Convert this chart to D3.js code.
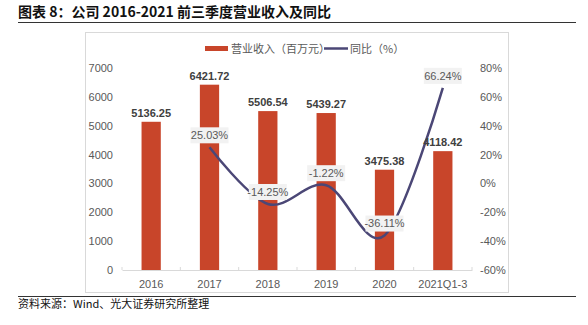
<!DOCTYPE html>
<html>
<head>
<meta charset="utf-8">
<script src="https://cdn.jsdelivr.net/npm/d3@7"></script>
<style>
  body { margin: 0; background: #fff; }
  svg text { font-family: "Liberation Sans", Arial, "Noto Sans CJK SC", sans-serif; }
  .cjk { font-family: "Noto Sans CJK SC", sans-serif; }
</style>
</head>
<body>
<svg id="chart" width="588" height="325"></svg>
<script>
// data
var categories = ["2016", "2017", "2018", "2019", "2020", "2021Q1-3"];
var revenue = [5136.25, 6421.72, 5506.54, 5439.27, 3475.38, 4118.42];
var yoy = [null, 25.03, -14.25, -1.22, -36.11, 66.24];
var leftTicks = [0, 1000, 2000, 3000, 4000, 5000, 6000, 7000];
var rightTicks = [-60, -40, -20, 0, 20, 40, 60, 80];

var svg = d3.select("#chart");
var barColor = "#c8452a", lineColor = "#4b4776", grey = "#595959";

// title + rules
svg.append("text")
    .attr("class", "cjk")
    .attr("x", 18).attr("y", 17)
    .style("font-size", "14px").style("font-weight", "bold").attr("fill", "#111")
    .text("图表 8：公司 2016-2021 前三季度营业收入及同比");
svg.append("line").attr("x1", 18).attr("x2", 576).attr("y1", 22.5).attr("y2", 22.5)
    .attr("stroke", "#333").attr("stroke-width", 1.2);
svg.append("line").attr("x1", 18).attr("x2", 576).attr("y1", 296.5).attr("y2", 296.5)
    .attr("stroke", "#333").attr("stroke-width", 1.2);
svg.append("text")
    .attr("class", "cjk")
    .attr("x", 18).attr("y", 308)
    .style("font-size", "11px").attr("fill", "#111")
    .text("资料来源：Wind、光大证券研究所整理");

// chart frame
svg.append("rect").attr("x", 85.5).attr("y", 32.5).attr("width", 423).attr("height", 260)
    .attr("fill", "none").attr("stroke", "#d9d9d9");

// scales
var x = d3.scaleBand().domain(categories).range([122, 472]);
var y = d3.scaleLinear().domain([0, 7000]).range([270, 68]);
var y2 = d3.scaleLinear().domain([-60, 80]).range([270, 68]);

// left axis
var leftAxis = svg.append("g")
    .attr("transform", "translate(113,0)")
    .call(d3.axisLeft(y).tickValues(leftTicks).tickSize(0).tickPadding(0).tickFormat(d3.format("d")));
leftAxis.select(".domain").remove();
leftAxis.selectAll("text").attr("fill", grey).style("font-size", "11px");

// right axis
var rightAxis = svg.append("g")
    .attr("transform", "translate(480,0)")
    .call(d3.axisRight(y2).tickValues(rightTicks).tickSize(0).tickPadding(0)
        .tickFormat(function(d) { return d + "%"; }));
rightAxis.select(".domain").remove();
rightAxis.selectAll("text").attr("fill", grey).style("font-size", "11px");

// bottom axis
var xAxis = svg.append("g")
    .attr("transform", "translate(0,270)")
    .call(d3.axisBottom(x).tickSize(0).tickPadding(10));
xAxis.select(".domain").attr("stroke", "#d9d9d9");
xAxis.selectAll("text").attr("fill", grey).style("font-size", "11px");
// boundary ticks between categories
svg.append("g").selectAll("line")
    .data(d3.range(categories.length + 1))
    .enter().append("line")
    .attr("x1", function(i) { return 122 + i * x.step(); })
    .attr("x2", function(i) { return 122 + i * x.step(); })
    .attr("y1", 267).attr("y2", 270)
    .attr("stroke", "#d9d9d9");

// bars
var barW = x.bandwidth() * 0.33;
svg.append("g").selectAll("rect")
    .data(revenue)
    .enter().append("rect")
    .attr("x", function(d, i) { return x(categories[i]) + x.bandwidth() / 2 - barW / 2; })
    .attr("y", function(d) { return y(d); })
    .attr("width", barW)
    .attr("height", function(d) { return 270 - y(d); })
    .attr("fill", barColor);

// yoy line
var pts = yoy.map(function(v, i) { return { c: categories[i], v: v }; })
    .filter(function(d) { return d.v !== null; });
var line = d3.line()
    .x(function(d) { return x(d.c) + x.bandwidth() / 2; })
    .y(function(d) { return y2(d.v); })
    .curve(d3.curveCardinal.tension(0));
svg.append("path")
    .datum(pts)
    .attr("d", line)
    .attr("fill", "none")
    .attr("stroke", lineColor)
    .attr("stroke-width", 2.5);

// bar value labels
svg.append("g").selectAll("text")
    .data(revenue)
    .enter().append("text")
    .attr("x", function(d, i) { return x(categories[i]) + x.bandwidth() / 2; })
    .attr("y", function(d) { return y(d) - 5; })
    .attr("text-anchor", "middle")
    .style("font-size", "11px").style("font-weight", "bold")
    .attr("fill", "#404040")
    .text(function(d) { return d.toFixed(2); });

// yoy labels
var lab = svg.append("g").selectAll("g")
    .data(pts)
    .enter().append("g")
    .attr("transform", function(d) {
        return "translate(" + (x(d.c) + x.bandwidth() / 2) + "," + (y2(d.v) - 12) + ")";
    });
lab.append("rect")
    .attr("x", -19).attr("y", -8).attr("width", 38).attr("height", 16)
    .attr("fill", "#f2f2f2");
lab.append("text")
    .attr("text-anchor", "middle").attr("dy", "0.36em")
    .style("font-size", "11px").attr("fill", grey)
    .text(function(d) { return d.v.toFixed(2) + "%"; });

// legend
svg.append("rect").attr("x", 205).attr("y", 46).attr("width", 23).attr("height", 5).attr("fill", barColor);
svg.append("text").attr("class", "cjk").attr("x", 231).attr("y", 52.5)
    .style("font-size", "11px").attr("fill", grey).text("营业收入（百万元）");
svg.append("line").attr("x1", 324).attr("x2", 348).attr("y1", 48.5).attr("y2", 48.5)
    .attr("stroke", lineColor).attr("stroke-width", 2.5);
svg.append("text").attr("class", "cjk").attr("x", 350).attr("y", 52.5)
    .style("font-size", "11px").attr("fill", grey).text("同比（%）");
</script>
</body>
</html>
